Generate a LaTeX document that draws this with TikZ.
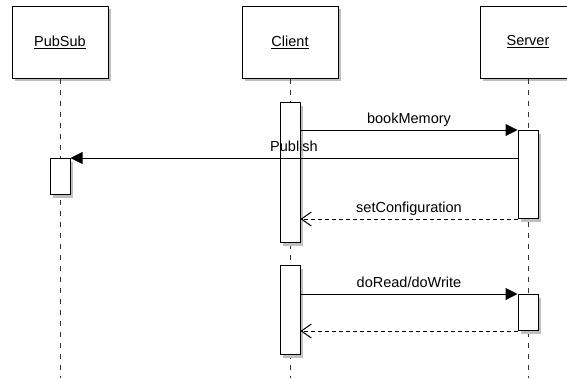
\documentclass[tikz,border=0pt]{standalone}
\usepackage{fontspec}
\setmainfont{Liberation Sans}
\usetikzlibrary{arrows.meta,shadows}
\begin{document}
\begin{tikzpicture}[x=1pt,y=-1pt,
  every node/.style={font=\fontsize{14.5pt}{17pt}\selectfont},
  shad/.style={drop shadow={shadow xshift=3pt,shadow yshift=-3pt,fill=black!25,opacity=1}},
  header/.style={draw=black,line width=1pt,fill=white,shad,minimum width=96pt,minimum height=72pt,inner sep=0pt},
  actbar/.style={draw=black,line width=1pt,fill=white,shad,minimum width=20pt,inner sep=0pt,anchor=north},
  lifeline/.style={draw=black!80,line width=1pt,dash pattern=on 5pt off 6pt},
  callmsg/.style={draw=black,line width=1pt,-{Triangle[length=12pt,width=12pt]}},
  retmsg/.style={draw=black,line width=1pt,dash pattern=on 4pt off 3pt,-{Straight Barb[length=10pt,width=14pt,line width=1pt]}},
  msglabel/.style={midway,anchor=base,yshift=7pt,inner sep=0pt}]
\useasboundingbox (0,0) rectangle (567,378);
% headers
\node[header] (pubsub) at (60,42) {\underline{PubSub}};
\node[header] (client) at (290,42) {\underline{Client}};
\node[header] (server) at (528,42) {\underline{Server}};
% lifeline ends
\coordinate (pend) at (60,378);
\coordinate (cend) at (290,378);
\coordinate (send) at (528,378);
\draw[lifeline] (pubsub.south) -- (pend);
\draw[lifeline] (client.south) -- (cend);
\draw[lifeline] (server.south) -- (send);
% activation bars
\node[actbar,minimum height=140pt] (ca1) at (290,102) {};
\node[actbar,minimum height=88pt] (sa1) at (528,130) {};
\node[actbar,minimum height=36pt] (pa) at (60,158) {};
\node[actbar,minimum height=89pt] (ca2) at (290,265) {};
\node[actbar,minimum height=36pt] (sa2) at (528,294) {};
% messages
\draw[callmsg] (ca1.east |- sa1.north west) -- node[msglabel] {bookMemory} (sa1.north west);
\draw[callmsg] (sa1.west |- pa.north east) -- node[msglabel] {Publish} (pa.north east);
\draw[retmsg] (sa1.south west) -- node[msglabel] {setConfiguration} (sa1.south west -| ca1.east);
\draw[callmsg] (ca2.east |- sa2.north west) -- node[msglabel] {doRead/doWrite} (sa2.north west);
\draw[retmsg] (sa2.south west) -- (sa2.south west -| ca2.east);
\end{tikzpicture}
\end{document}
